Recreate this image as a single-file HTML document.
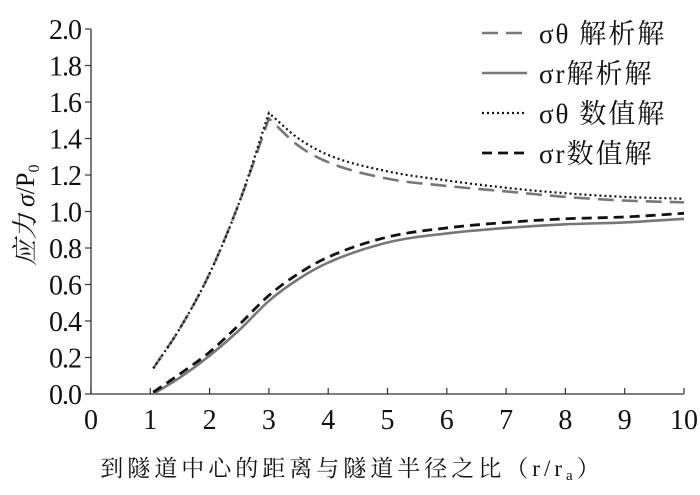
<!DOCTYPE html>
<html><head><meta charset="utf-8"><style>
body{margin:0;background:#fff;width:700px;height:490px;overflow:hidden}
text{font-family:"Liberation Serif","Noto Serif CJK SC",serif;fill:#111}
</style></head><body>
<svg id="chart" width="700" height="490" xmlns="http://www.w3.org/2000/svg"></svg>
<script>
const xTicks=[0,1,2,3,4,5,6,7,8,9,10];
const yTicks=[0.0,0.2,0.4,0.6,0.8,1.0,1.2,1.4,1.6,1.8,2.0];
const xTheta=[1.05,1.5,2,2.5,3,3.5,4,5,6,7,8,9,10];
const thetaAnalytic=[0.14,0.36,0.66,1.05,1.51,1.36,1.27,1.18,1.14,1.11,1.08,1.06,1.05];
const thetaNumeric=[0.14,0.36,0.66,1.05,1.54,1.40,1.31,1.22,1.17,1.13,1.10,1.08,1.07];
const xR=[1.05,1.5,2,2.5,3,3.5,4,5,6,7,8,9,10];
const rAnalytic=[0.0,0.09,0.21,0.35,0.51,0.63,0.72,0.83,0.88,0.91,0.93,0.94,0.96];
const rNumeric=[0.01,0.11,0.23,0.38,0.54,0.66,0.75,0.86,0.91,0.94,0.96,0.97,0.99];
const legendLabels=["σθ 解析解","σr解析解","σθ 数值解","σr数值解"];

const svg=document.getElementById('chart');
const NS="http://www.w3.org/2000/svg";
const X=v=>91+v*59.3, Y=v=>394-v*182.5;
function mk(tag,attrs,parent){const e=document.createElementNS(NS,tag);for(const k in attrs)e.setAttribute(k,attrs[k]);(parent||svg).appendChild(e);return e;}
let e;
e=mk('line',{x1:X(0),y1:Y(0),x2:X(10),y2:Y(0),stroke:'#333','stroke-width':1.3});


e=mk('line',{x1:X(0),y1:Y(0),x2:X(0),y2:Y(2),stroke:'#333','stroke-width':1.3});


xTicks.forEach(t=>{
  e=mk('line',{x1:X(t),y1:Y(0),x2:X(t),y2:Y(0)-6,stroke:'#333','stroke-width':1.2});
  
  
  e=mk('text',{x:X(t),y:429,'text-anchor':'middle','font-size':28});
  e.textContent=String(t);
  
  
});
yTicks.forEach(t=>{
  e=mk('line',{x1:X(0)-6,y1:Y(t),x2:X(0),y2:Y(t),stroke:'#333','stroke-width':1.2});
  
  
  e=mk('text',{x:81,y:Y(t)+10,'text-anchor':'end','font-size':28,'letter-spacing':-1});
  e.textContent=t.toFixed(1);
  
  
});
e=mk('text',{x:352,y:476,'text-anchor':'middle','font-size':23,'letter-spacing':4});
e.innerHTML='到隧道中心的距离与隧道半径之比（r/r<tspan font-size="15" dy="4">a</tspan><tspan dy="-4">）</tspan>';


e=mk('text',{transform:'translate(34,215) rotate(-90)','text-anchor':'middle','font-size':26});
e.innerHTML='<tspan font-style="italic">应力 σ</tspan>/P<tspan font-size="16" dy="5">0</tspan>';


const styles=[
 {xs:xTheta,ys:thetaAnalytic,stroke:'#777',w:2.6,dash:'16,8',kink:3,name:'theta-analytic-line'},
 {xs:xR,ys:rAnalytic,stroke:'#777',w:2.6,dash:'',kink:null,name:'r-analytic-line'},
 {xs:xTheta,ys:thetaNumeric,stroke:'#111',w:2.2,dash:'2,3',kink:3,name:'theta-numeric-line'},
 {xs:xR,ys:rNumeric,stroke:'#111',w:2.8,dash:'10,6',kink:null,name:'r-numeric-line'}];
function monoSeg(p){
  const n=p.length;const d=[],m=[];
  for(let i=0;i<n-1;i++)d.push((p[i+1][1]-p[i][1])/(p[i+1][0]-p[i][0]));
  m[0]=d[0];m[n-1]=d[n-2];
  for(let i=1;i<n-1;i++)m[i]=(d[i-1]*d[i]<=0)?0:(d[i-1]+d[i])/2;
  for(let i=0;i<n-1;i++){if(d[i]===0){m[i]=m[i+1]=0;continue;}const a=m[i]/d[i],b=m[i+1]/d[i],s=a*a+b*b;if(s>9){const t=3/Math.sqrt(s);m[i]=t*a*d[i];m[i+1]=t*b*d[i];}}
  let s='';
  for(let i=0;i<n-1;i++){const h=(p[i+1][0]-p[i][0])/3;
    s+=` C${p[i][0]+h},${p[i][1]+m[i]*h} ${p[i+1][0]-h},${p[i+1][1]-m[i+1]*h} ${p[i+1][0]},${p[i+1][1]}`;}
  return s;}
function pathFor(s){
  const p=s.xs.map((x,i)=>[X(x),Y(s.ys[i])]);
  let d=`M${p[0][0]},${p[0][1]}`;
  if(s.kink!==null){const k=s.xs.indexOf(s.kink);d+=monoSeg(p.slice(0,k+1))+monoSeg(p.slice(k));}
  else d+=monoSeg(p);
  return d;}
styles.forEach(s=>{
  e=mk('path',{d:pathFor(s),fill:'none',stroke:s.stroke,'stroke-width':s.w,'stroke-dasharray':s.dash});
  
  
});
legendLabels.forEach((lab,i)=>{
  const s=styles[i],y=33+i*40;
  e=mk('line',{x1:482,y1:y,x2:527,y2:y,stroke:s.stroke,'stroke-width':s.w,'stroke-dasharray':s.dash});
  
  
  e=mk('text',{x:539,y:y+10,'font-size':27,'letter-spacing':2});
  e.textContent=lab;
  
  
});
</script>
</body></html>
